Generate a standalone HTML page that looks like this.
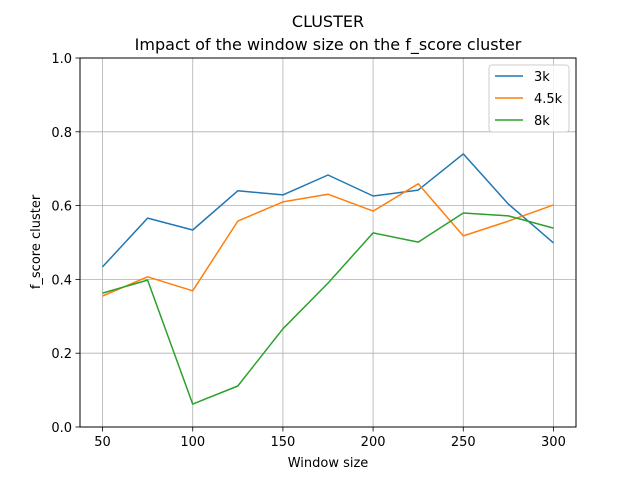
<!DOCTYPE html>
<html><head><meta charset="utf-8">
<style>
body{margin:0;background:#fff;}
svg{display:block;font-family:"DejaVu Sans","Liberation Sans",sans-serif;}
</style></head>
<body>
<svg id="chart" width="640" height="480" viewBox="0 0 640 480" xmlns="http://www.w3.org/2000/svg">
<rect width="640" height="480" fill="#fff"/>
<text x="328" y="27" text-anchor="middle" font-size="16">CLUSTER</text>
<text x="328" y="50" text-anchor="middle" font-size="16">Impact of the window size on the f_score cluster</text>
<g id="grid"></g>
<g id="series"></g>
<rect x="80" y="58" width="496" height="369" fill="none" stroke="#000" stroke-width="1"/>
<g id="ticks"></g>
<text x="328" y="467" text-anchor="middle" font-size="13">Window size</text>
<text transform="translate(40,242) rotate(-90)" text-anchor="middle" font-size="13">f_score cluster</text>
<g id="legend"></g>
</svg>
<script>
const xValues = [50,75,100,125,150,175,200,225,250,275,300];
const series3k = [0.434,0.566,0.534,0.64,0.629,0.683,0.626,0.642,0.74,0.604,0.499];
const series45k = [0.355,0.407,0.369,0.558,0.61,0.631,0.585,0.659,0.518,0.558,0.602];
const series8k = [0.363,0.398,0.062,0.111,0.266,0.39,0.526,0.501,0.58,0.572,0.539];
const seriesNames = ["3k","4.5k","8k"];
const xTicks = [50,100,150,200,250,300];
const yTicks = [0,0.2,0.4,0.6,0.8,1.0];
const yTickLabels = ["0.0","0.2","0.4","0.6","0.8","1.0"];

const NS="http://www.w3.org/2000/svg";
const L=80,R=576,T=58,B=427, XMIN=37.5,XMAX=312.5,YMIN=0,YMAX=1;
const xs=v=>L+(v-XMIN)/(XMAX-XMIN)*(R-L);
const ys=v=>B-(v-YMIN)/(YMAX-YMIN)*(B-T);
function mk(tag,attrs,parent){const e=document.createElementNS(NS,tag);for(const k in attrs)e.setAttribute(k,attrs[k]);parent.appendChild(e);return e;}
const grid=document.getElementById('grid'),ticks=document.getElementById('ticks'),sg=document.getElementById('series'),lg=document.getElementById('legend');
xTicks.forEach(v=>{
  const x=xs(v);
  const g=mk('line',{x1:x,x2:x,y1:T,y2:B,stroke:'#b0b0b0','stroke-width':0.8},grid);
  
  
  const t=mk('line',{x1:x,x2:x,y1:B,y2:B+4.5,stroke:'#000','stroke-width':0.8},ticks);
  
  
  const l=mk('text',{x:x,y:B+19,'text-anchor':'middle','font-size':13},ticks);
  l.textContent=v;
  
  
});
yTicks.forEach((v,i)=>{
  const y=ys(v);
  const g=mk('line',{x1:L,x2:R,y1:y,y2:y,stroke:'#b0b0b0','stroke-width':0.8},grid);
  
  
  const t=mk('line',{x1:L-4.5,x2:L,y1:y,y2:y,stroke:'#000','stroke-width':0.8},ticks);
  
  
  const l=mk('text',{x:L-8,y:y+5,'text-anchor':'end','font-size':13},ticks);
  l.textContent=yTickLabels[i];
  
  
});
const allSeries=[series3k,series45k,series8k];
const colors=['#1f77b4','#ff7f0e','#2ca02c'];
allSeries.forEach((s,i)=>{
  const pts=s.map((v,j)=>xs(xValues[j]).toFixed(1)+','+ys(v).toFixed(1)).join(' ');
  const p=mk('polyline',{points:pts,fill:'none',stroke:colors[i],'stroke-width':1.5,'stroke-linejoin':'round'},sg);
  
  
});
const box=mk('rect',{x:489,y:65,width:80,height:67,rx:3,fill:'#fff','fill-opacity':0.8,stroke:'#ccc','stroke-width':1},lg);


seriesNames.forEach((n,i)=>{
  const y=76+i*22;
  const ln=mk('line',{x1:495,x2:523,y1:y,y2:y,stroke:colors[i],'stroke-width':1.5},lg);
  
  
  const t=mk('text',{x:534,y:y+5,'font-size':13},lg);
  t.textContent=n;
  
  
});
</script>
</body></html>
